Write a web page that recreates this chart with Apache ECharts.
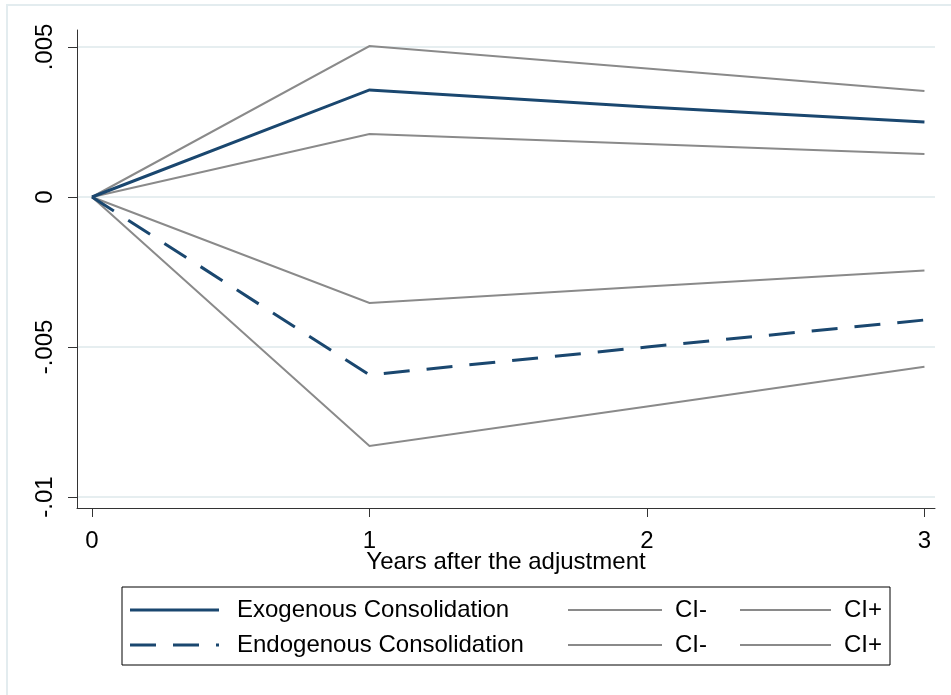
<!DOCTYPE html>
<html>
<head>
<meta charset="utf-8">
<script src="https://cdn.jsdelivr.net/npm/echarts@6/dist/echarts.min.js"></script>
<style>
  html, body { margin: 0; padding: 0; background: #fff; }
  #chart { width: 951px; height: 695px; }
</style>
</head>
<body>
<div id="chart"></div>
<script>
// Years after the fiscal adjustment
const years = [0, 1, 2, 3];

// Exogenous consolidation: point estimate and confidence band
const exogenous = [0, 0.00357, 0.00300, 0.00250];
const exogenousLo = [0, 0.00210, 0.00177, 0.00143];
const exogenousHi = [0, 0.00503, 0.00428, 0.00353];

// Endogenous consolidation: point estimate and confidence band
const endogenous = [0, -0.00593, -0.00500, -0.00410];
const endogenousLo = [0, -0.00830, -0.00698, -0.00566];
const endogenousHi = [0, -0.00353, -0.00298, -0.00245];

// Axis ticks
const yTicks = [-0.01, -0.005, 0, 0.005];
const xTicks = [0, 1, 2, 3];

const NAVY = '#1a476f';
const GREY = '#8a8a8a';
const FONT = '"Liberation Sans", Arial, sans-serif';

function pairs(values) {
  return years.map((x, i) => [x, values[i]]);
}

function lineSeries(name, values, color, width, dash) {
  return {
    name: name,
    type: 'line',
    data: pairs(values),
    symbol: 'none',
    silent: true,
    animation: false,
    lineStyle: { color: color, width: width, type: dash || 'solid', cap: 'butt', join: 'miter' }
  };
}

function stripZero(v) {
  if (v === 0) return '0';
  return String(v).replace('0.', '.');
}

const chart = echarts.init(document.getElementById('chart'), null, { renderer: 'canvas' });

// Legend drawn as a framed key below the plot
const legendTop = 587, legendLeft = 122, legendW = 768, legendH = 78;
const rowY = [610, 645];
const legendFont = { fontFamily: FONT, fontSize: 24, fill: '#000' };
const legendEls = [
  { type: 'rect', shape: { x: legendLeft, y: legendTop, width: legendW, height: legendH },
    style: { fill: '#fff', stroke: '#000', lineWidth: 1 } }
];
const keyRows = [
  { label: 'Exogenous Consolidation', dash: null },
  { label: 'Endogenous Consolidation', dash: [26, 17] }
];
keyRows.forEach((row, r) => {
  const y = rowY[r];
  legendEls.push({ type: 'line', shape: { x1: 130, y1: y, x2: 219, y2: y },
    style: { stroke: NAVY, lineWidth: 3, lineDash: row.dash } });
  legendEls.push({ type: 'text', x: 237, y: y,
    style: Object.assign({ text: row.label, textAlign: 'left', textVerticalAlign: 'middle' }, legendFont) });
  legendEls.push({ type: 'line', shape: { x1: 568, y1: y, x2: 662, y2: y },
    style: { stroke: GREY, lineWidth: 2 } });
  legendEls.push({ type: 'text', x: 675, y: y,
    style: Object.assign({ text: 'CI-', textAlign: 'left', textVerticalAlign: 'middle' }, legendFont) });
  legendEls.push({ type: 'line', shape: { x1: 740, y1: y, x2: 831, y2: y },
    style: { stroke: GREY, lineWidth: 2 } });
  legendEls.push({ type: 'text', x: 882, y: y,
    style: Object.assign({ text: 'CI+', textAlign: 'right', textVerticalAlign: 'middle' }, legendFont) });
});

const option = {
  backgroundColor: '#fff',
  animation: false,
  grid: { left: 77, right: 16, top: 30, bottom: 187, containLabel: false },
  xAxis: {
    type: 'value',
    min: -0.054,
    max: 3.038,
    name: 'Years after the adjustment',
    nameLocation: 'middle',
    nameGap: 42,
    nameMoveOverlap: false,
    nameTextStyle: { fontFamily: FONT, fontSize: 24, color: '#000' },
    axisLine: { show: true, onZero: false, lineStyle: { color: '#333', width: 1 } },
    axisTick: { show: true, length: 9, customValues: xTicks, lineStyle: { color: '#333' } },
    axisLabel: { customValues: xTicks, fontFamily: FONT, fontSize: 24, color: '#000', margin: 21,
      formatter: v => String(v) },
    splitLine: { show: false }
  },
  yAxis: {
    type: 'value',
    min: -0.010367,
    max: 0.005567,
    axisLine: { show: true, onZero: false, lineStyle: { color: '#333', width: 1 } },
    axisTick: { show: true, length: 9, customValues: yTicks, lineStyle: { color: '#333' } },
    axisLabel: { customValues: yTicks, rotate: 90, fontFamily: FONT, fontSize: 24, color: '#000',
      margin: 20, formatter: stripZero },
    splitLine: { show: true, lineStyle: { color: '#e6eef0', width: 2 } }
  },
  series: [
    lineSeries('CI+', exogenousHi, GREY, 2),
    lineSeries('CI-', exogenousLo, GREY, 2),
    lineSeries('CI+', endogenousHi, GREY, 2),
    lineSeries('CI-', endogenousLo, GREY, 2),
    lineSeries('Exogenous Consolidation', exogenous, NAVY, 3),
    lineSeries('Endogenous Consolidation', endogenous, NAVY, 3, [26, 17])
  ],
  graphic: [
    { type: 'rect', silent: true, shape: { x: 7, y: 5, width: 1000, height: 800 },
      style: { fill: 'none', stroke: '#e3ecef', lineWidth: 2 } }
  ].concat(legendEls)
};

chart.setOption(option);
</script>
</body>
</html>
